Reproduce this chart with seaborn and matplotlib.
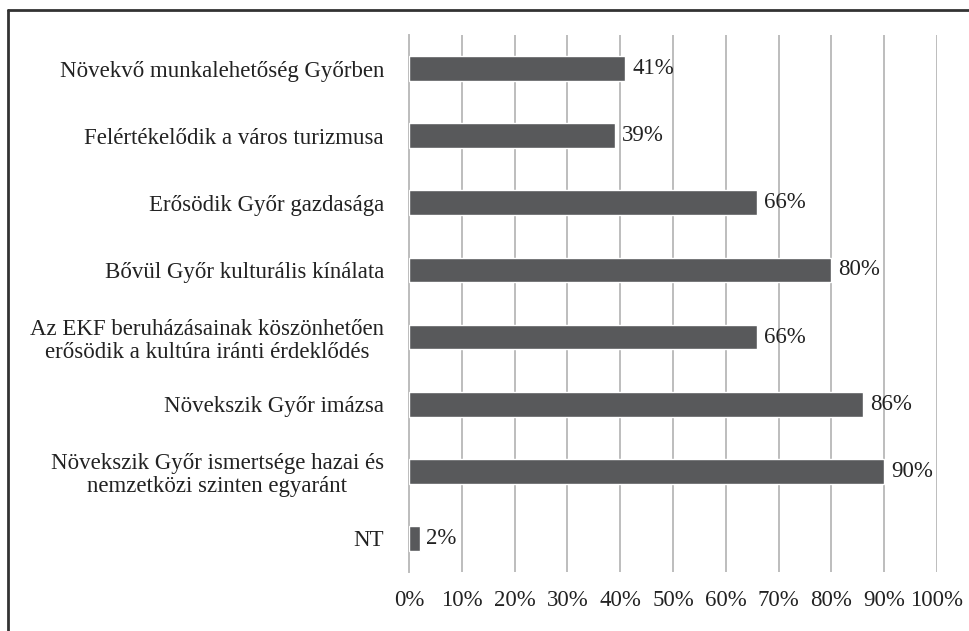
import numpy as np
import pandas as pd
import matplotlib.pyplot as plt
import seaborn as sns
from matplotlib.ticker import FixedLocator, PercentFormatter

categories = [
    'Növekvő munkalehetőség Győrben',
    'Felértékelődik a város turizmusa',
    'Erősödik Győr gazdasága',
    'Bővül Győr kulturális kínálata',
    'Az EKF beruházásainak köszönhetően\nerősödik a kultúra iránti érdeklődés',
    'Növekszik Győr imázsa',
    'Növekszik Győr ismertsége hazai és\nnemzetközi szinten egyaránt',
    'NT',
]
values = [41, 39, 66, 80, 66, 86, 90, 2]

df = pd.DataFrame({'label': categories, 'pct': values})

sns.set_style('white')
plt.rcParams['font.family'] = ['Liberation Serif', 'DejaVu Serif']

fig = plt.figure(figsize=(9.7, 6.31), dpi=100)
ax = fig.add_axes([0.4216, 0.0935, 0.5444, 0.851])

sns.barplot(data=df, x='pct', y='label', color='#58595b', saturation=1,
            width=0.37, ax=ax, zorder=3)

ax.set_xlim(0, 100)
ax.set_ylim(len(categories) - 0.5, -0.5)
ax.set_xticks(np.arange(0, 101, 10))
ax.xaxis.set_major_formatter(PercentFormatter(decimals=0))
ax.grid(axis='x', color='#bdbdbd', linewidth=1.4, zorder=0)
ax.set_xlabel('')
ax.set_ylabel('')

for s in ['top', 'right', 'bottom']:
    ax.spines[s].set_visible(False)
ax.spines['left'].set_color('#bdbdbd')
ax.spines['left'].set_linewidth(1.4)

fs = 16.5
ax.tick_params(axis='x', length=0, pad=13, labelsize=fs, colors='#222222')
ax.tick_params(axis='y', which='major', length=0, pad=18, labelsize=fs,
               colors='#222222')
ax.yaxis.set_minor_locator(FixedLocator(np.arange(-0.5, len(categories), 1)))
ax.tick_params(axis='y', which='minor', length=6, width=1.4, color='#bdbdbd')
for t in ax.get_yticklabels():
    t.set_multialignment('center')
    t.set_linespacing(1.15)

for i, v in enumerate(values):
    ax.text(v + 1.3, i, f'{v}%', va='center', ha='left', fontsize=fs,
            color='#222222', zorder=4)

# frame around the chart (only top and left edges are visible)
fig.add_artist(plt.Line2D([8 / 970, 1], [1 - 10 / 631, 1 - 10 / 631],
                          color='#333333', linewidth=2))
fig.add_artist(plt.Line2D([8 / 970, 8 / 970], [0, 1 - 10 / 631],
                          color='#333333', linewidth=2))

fig.savefig('out.png', dpi=100)
